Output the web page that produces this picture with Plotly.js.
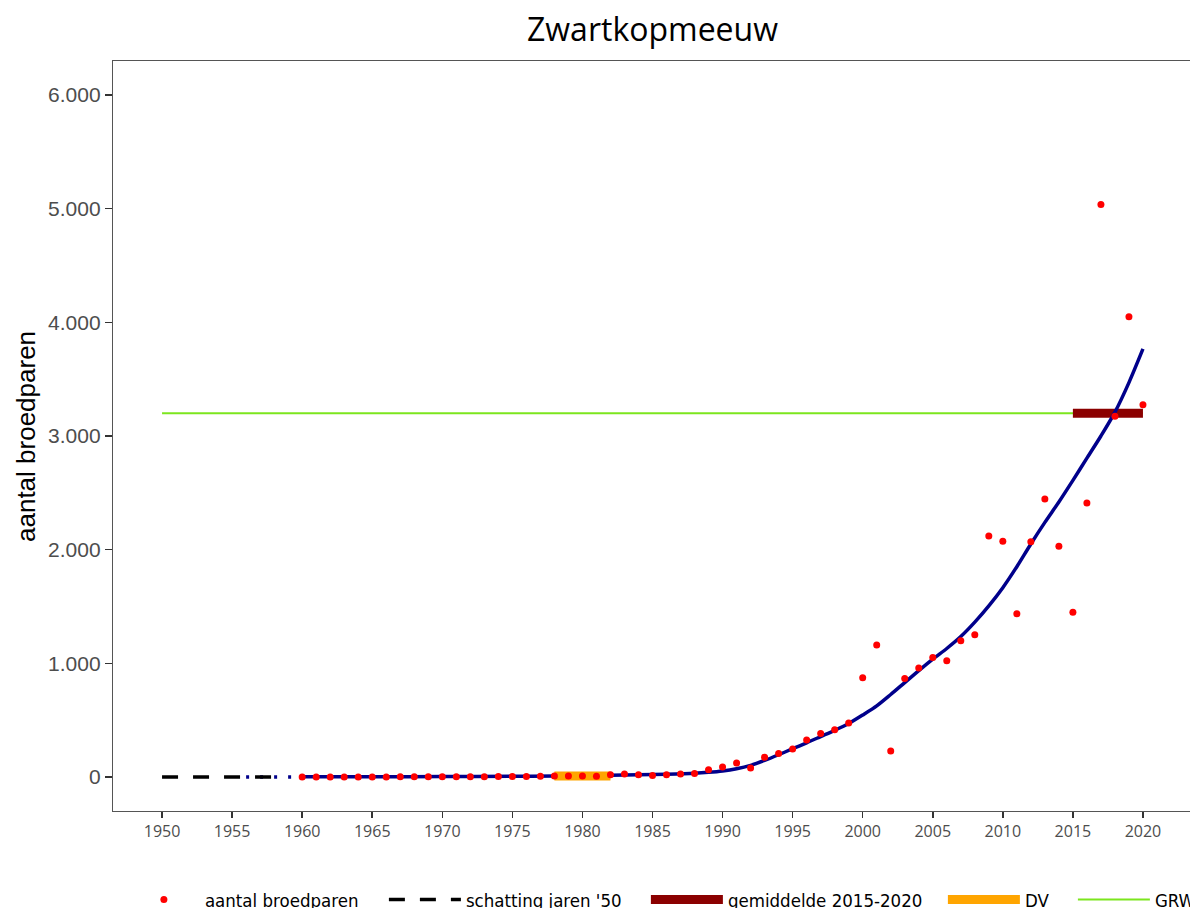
<!DOCTYPE html>
<html>
<head>
<meta charset="utf-8">
<script src="https://cdn.plot.ly/plotly-3.0.1.min.js"></script>
<style>
html, body { margin: 0; padding: 0; overflow: hidden; background: #fff; }
#chart { width: 1250px; height: 950px; }
</style>
</head>
<body>
<div id="chart"></div>
<script>
// --- data ---
var years = [1960,1961,1962,1963,1964,1965,1966,1967,1968,1969,
             1970,1971,1972,1973,1974,1975,1976,1977,1978,1979,
             1980,1981,1982,1983,1984,1985,1986,1987,1988,1989,
             1990,1991,1992,1993,1994,1995,1996,1997,1998,1999,
             2000,2001,2002,2003,2004,2005,2006,2007,2008,2009,
             2010,2011,2012,2013,2014,2015,2016,2017,2018,2019,2020];
var pairs = [0,0,0,0,0,0,0,1,1,1,
             1,2,2,2,3,3,4,5,7,8,
             8,6,20,26,18,12,18,26,29,64,
             88,123,79,173,205,246,325,381,416,474,
             873,1160,228,867,958,1051,1022,1198,1250,2120,
             2073,1435,2070,2445,2029,1448,2411,5037,3174,4050,3274];

var fitYears  = [1960,1965,1970,1975,1978,1980,1982,1984,1986,1988,1989,
                 1990,1991,1992,1993,1994,1995,1996,1997,1998,1999,
                 2000,2001,2002,2003,2004,2005,2006,2007,2008,2009,
                 2010,2011,2012,2013,2014,2015,2016,2017,2018,2019,2020];
var fitValues = [1,2,3,6,8,10,14,19,24,32,40,
                 52,72,102,145,195,248,300,355,410,470,
                 545,625,725,830,935,1037,1130,1235,1362,1505,
                 1665,1850,2050,2240,2420,2610,2805,3000,3210,3470,3766];

var fitExtYears  = [1956, 1960];
var fitExtValues = [0, 0];

var schattingYears  = [1950, 1958];
var schattingValues = [0, 0];

var gemYears  = [2015, 2020];
var gemValues = [3200, 3200];

var dvYears  = [1978, 1982];
var dvValues = [8, 8];

var grwYears  = [1950, 2020];
var grwValues = [3200, 3200];

var xTicks = [1950,1955,1960,1965,1970,1975,1980,1985,1990,1995,2000,2005,2010,2015,2020];
var yTicks = [0,1000,2000,3000,4000,5000,6000];

var yTitle = 'aantal broedparen';
var chartTitle = 'Zwartkopmeeuw';

var legendFont = {family: 'DejaVu Sans Condensed, DejaVu Sans, sans-serif', size: 18.5, color: '#000'};

var traces = [
  {x: grwYears, y: grwValues, mode: 'lines', name: 'GRW', legendrank: 5, legendwidth: 60,
   line: {color: '#7CE61E', width: 2}, hoverinfo: 'skip'},
  {x: gemYears, y: gemValues, mode: 'lines', name: 'gemiddelde 2015-2020', legendrank: 3, legendwidth: 210,
   line: {color: '#8B0000', width: 9}, hoverinfo: 'skip'},
  {x: fitYears, y: fitValues, mode: 'lines', name: 'trend', showlegend: false,
   line: {color: '#00008B', width: 3.5, shape: 'spline', smoothing: 0.8}, hoverinfo: 'skip'},
  {x: fitExtYears, y: fitExtValues, mode: 'lines', name: 'trend ext', showlegend: false,
   line: {color: '#00008B', width: 3.5, dash: '3px,11px'}, hoverinfo: 'skip'},
  {x: schattingYears, y: schattingValues, mode: 'lines', name: "schatting jaren '50", legendrank: 2, legendwidth: 175,
   line: {color: '#000000', width: 3.5, dash: '16px,15px'}, hoverinfo: 'skip'},
  {x: dvYears, y: dvValues, mode: 'lines', name: 'DV', legendrank: 4, legendwidth: 43,
   line: {color: '#FFA500', width: 9}, hoverinfo: 'skip'},
  {x: years, y: pairs, mode: 'markers', name: 'aantal broedparen', legendrank: 1, legendwidth: 174,
   marker: {color: '#FF0000', size: 7}}
];

var layout = {
  width: 1250, height: 950,
  margin: {l: 113, r: 58, t: 61, b: 139, pad: 0},
  paper_bgcolor: '#fff', plot_bgcolor: '#fff',
  separators: ',.',
  title: {text: chartTitle, font: {family: 'Open Sans, sans-serif', size: 32, color: '#000'},
          x: 0.5, xref: 'paper', xanchor: 'center', y: 1 - 30/950, yref: 'container', yanchor: 'middle'},
  showlegend: true,
  legend: {orientation: 'h', x: -0.0001, xanchor: 'left', y: -0.080, yanchor: 'top',
           font: legendFont, itemwidth: 72, bgcolor: 'rgba(0,0,0,0)',
           borderwidth: 10, bordercolor: 'rgba(0,0,0,0)', traceorder: 'normal'},
  xaxis: {range: [1946.5, 2023.5], tickmode: 'array', tickvals: xTicks,
          ticks: 'outside', ticklen: 6, tickwidth: 1.5, tickcolor: '#333',
          showline: true, linecolor: '#555', linewidth: 1.2, mirror: true,
          showgrid: false, zeroline: false,
          tickfont: {family: 'Open Sans, sans-serif', size: 16, color: '#4D4D4D'}},
  yaxis: {range: [-300, 6300], tickmode: 'array', tickvals: yTicks, tickformat: ',d',
          ticks: 'outside', ticklen: 7, tickwidth: 1.5, tickcolor: '#333',
          showline: true, linecolor: '#555', linewidth: 1.2, mirror: true,
          showgrid: false, zeroline: false,
          tickfont: {family: 'Liberation Sans, Arial, sans-serif', size: 21, color: '#4D4D4D'}},
  annotations: [
    {text: yTitle, xref: 'paper', yref: 'paper', x: (26 - 113) / 1079, y: (811 - 437) / 750,
     xanchor: 'center', yanchor: 'middle', textangle: -90, showarrow: false,
     font: {family: 'Liberation Sans, Arial, sans-serif', size: 26, color: '#000'}}
  ]
};

Plotly.newPlot('chart', traces, layout, {displayModeBar: false, staticPlot: true});
</script>
</body>
</html>
